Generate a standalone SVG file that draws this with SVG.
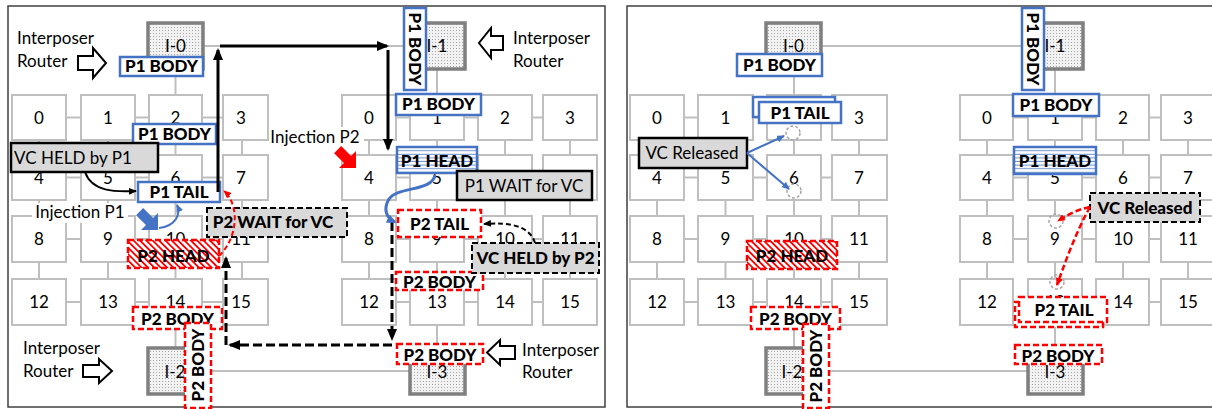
<svg xmlns="http://www.w3.org/2000/svg" width="1212" height="409" viewBox="0 0 1212 409">
<defs>
<pattern id="dots" width="3" height="3" patternUnits="userSpaceOnUse"><rect width="3" height="3" fill="#f2f2f2"/><rect width="1" height="1" fill="#a6a6a6"/></pattern>
<pattern id="hatch" width="4.5" height="4.5" patternUnits="userSpaceOnUse" patternTransform="rotate(-45)"><rect width="4.5" height="4.5" fill="#fff"/><rect width="1.8" height="4.5" fill="#ff0000"/></pattern>
<pattern id="hl" width="6" height="3.6" patternUnits="userSpaceOnUse"><rect width="6" height="3.6" fill="#fff"/><rect y="2.6" width="6" height="0.8" fill="#4472c4"/></pattern>
<marker id="mk" viewBox="0 0 12 10" refX="10" refY="5" markerWidth="12" markerHeight="10" markerUnits="userSpaceOnUse" orient="auto"><path d="M0,0 L12,5 L0,10 z" fill="#000"/></marker>
<marker id="mks" viewBox="0 0 8 7" refX="7" refY="3.5" markerWidth="8" markerHeight="7" markerUnits="userSpaceOnUse" orient="auto"><path d="M0,0 L8,3.5 L0,7 z" fill="#000"/></marker>
<marker id="mkb" viewBox="0 0 8 7" refX="7" refY="3.5" markerWidth="8" markerHeight="7" markerUnits="userSpaceOnUse" orient="auto"><path d="M0,0 L8,3.5 L0,7 z" fill="#4472c4"/></marker>
<marker id="mkbb" viewBox="0 0 10 9" refX="8" refY="4.5" markerWidth="10" markerHeight="9" markerUnits="userSpaceOnUse" orient="auto"><path d="M0,0 L10,4.5 L0,9 z" fill="#4472c4"/></marker>
<marker id="mkr" viewBox="0 0 8 7" refX="7" refY="3.5" markerWidth="8" markerHeight="7" markerUnits="userSpaceOnUse" orient="auto"><path d="M0,0 L8,3.5 L0,7 z" fill="#ff0000"/></marker>
</defs>
<style>
text { font-family: Lato, "Liberation Sans", sans-serif; fill:#000; }
.rt rect { fill:#fff; stroke:#bfbfbf; stroke-width:2; }
.rt text { font-size:17px; text-anchor:middle; }
.lk { stroke:#bfbfbf; stroke-width:2; fill:none; }
.ip rect { fill:url(#dots); stroke:#7f7f7f; stroke-width:3.5; }
.ip text { font-size:17px; text-anchor:middle; }
.b1 rect { fill:#fff; stroke:#4472c4; stroke-width:2.5; }
.b1 rect.hd { fill:url(#hl); }
.b2 rect { fill:#fff; stroke:#ff0000; stroke-width:2.5; stroke-dasharray:6 3; }
.b2 rect.hh { fill:url(#hatch); }
.lb { font-size:17px; font-weight:900; text-anchor:middle; }
.nt rect { fill:#d9d9d9; stroke:#000; stroke-width:2.5; }
.nd rect { fill:#d9d9d9; stroke:#000; stroke-width:2; stroke-dasharray:6 3; }
.nt text { font-size:17px; text-anchor:middle; }
.tx { font-size:17px; }
.oa { fill:#fff; stroke:#000; stroke-width:2; }
.ring { fill:none; stroke:#a6a6a6; stroke-width:1.5; stroke-dasharray:3 2; }
.ah { fill:none; stroke:#000; stroke-width:3; }
.ahd { fill:none; stroke:#000; stroke-width:3; stroke-dasharray:9 4; }
</style>
<rect width="1212" height="409" fill="#fff"/>
<rect x="8" y="6" width="597" height="401" fill="none" stroke="#404040" stroke-width="1.5"/>
<path d="M1215,6 H627 V407 H1215" fill="none" stroke="#404040" stroke-width="1.5"/>

<g id="links">
<path class="lk" d="M39,117.5H241 M39,177.5H241 M39,239H241 M39,302H241 M39,117V302 M108,117V302 M175.5,117V302 M242,117V302"/>
<path class="lk" d="M369,117.5H570 M369,177.5H570 M369,239H570 M369,302H570 M369,117V302 M437,117V302 M505,117V302 M570,117V302"/>
<path class="lk" d="M657,117.5H859 M657,177.5H859 M657,239H859 M657,302H859 M657,117V302 M725.5,117V302 M794,117V302 M859,117V302"/>
<path class="lk" d="M987,117.5H1188 M987,177.5H1188 M987,239H1188 M987,302H1188 M987,117V302 M1055,117V302 M1123,117V302 M1188,117V302"/>
<path class="lk" d="M203,46H410 M175.5,69V95 M437,69V95 M175.5,324V348 M437,324V348 M203,371H410"/>
<path class="lk" d="M821,46H1028 M794,69V95 M1055,69V95 M794,324V348 M1055,324V348 M821,371H1028"/>
</g>

<g id="left-grid-a" class="rt">
<g id="LA0"><rect x="12" y="95" width="54" height="45"/><text x="39" y="124">0</text></g>
<g id="LA1"><rect x="81" y="95" width="54" height="45"/><text x="108" y="124">1</text></g>
<g id="LA2"><rect x="149" y="95" width="53" height="45"/><text x="175.5" y="124">2</text></g>
<g id="LA3"><rect x="223" y="95" width="45" height="45"/><text x="241" y="124">3</text></g>
<g id="LA4"><rect x="12" y="155" width="54" height="45"/><text x="39" y="184">4</text></g>
<g id="LA5"><rect x="81" y="155" width="54" height="45"/><text x="108" y="184">5</text></g>
<g id="LA6"><rect x="149" y="155" width="53" height="45"/><text x="175.5" y="184">6</text></g>
<g id="LA7"><rect x="223" y="155" width="45" height="45"/><text x="241" y="184">7</text></g>
<g id="LA8"><rect x="12" y="216" width="54" height="46"/><text x="39" y="245">8</text></g>
<g id="LA9"><rect x="81" y="216" width="54" height="46"/><text x="108" y="245">9</text></g>
<g id="LA10"><rect x="149" y="216" width="53" height="46"/><text x="175.5" y="245">10</text></g>
<g id="LA11"><rect x="223" y="216" width="45" height="46"/><text x="241" y="245">11</text></g>
<g id="LA12"><rect x="12" y="279" width="54" height="46"/><text x="39" y="308">12</text></g>
<g id="LA13"><rect x="81" y="279" width="54" height="46"/><text x="108" y="308">13</text></g>
<g id="LA14"><rect x="149" y="279" width="53" height="46"/><text x="175.5" y="308">14</text></g>
<g id="LA15"><rect x="223" y="279" width="45" height="46"/><text x="241" y="308">15</text></g>
</g>
<g id="left-grid-b" class="rt">
<g id="LB0"><rect x="342" y="95" width="54" height="45"/><text x="369" y="124">0</text></g>
<g id="LB1"><rect x="410" y="95" width="54" height="45"/><text x="437" y="124">1</text></g>
<g id="LB2"><rect x="478" y="95" width="54" height="45"/><text x="505" y="124">2</text></g>
<g id="LB3"><rect x="543" y="95" width="54" height="45"/><text x="570" y="124">3</text></g>
<g id="LB4"><rect x="342" y="155" width="54" height="45"/><text x="369" y="184">4</text></g>
<g id="LB5"><rect x="410" y="155" width="54" height="45"/><text x="437" y="184">5</text></g>
<g id="LB6"><rect x="478" y="155" width="54" height="45"/><text x="505" y="184">6</text></g>
<g id="LB7"><rect x="543" y="155" width="54" height="45"/><text x="570" y="184">7</text></g>
<g id="LB8"><rect x="342" y="216" width="54" height="46"/><text x="369" y="245">8</text></g>
<g id="LB9"><rect x="410" y="216" width="54" height="46"/><text x="437" y="245">9</text></g>
<g id="LB10"><rect x="478" y="216" width="54" height="46"/><text x="505" y="245">10</text></g>
<g id="LB11"><rect x="543" y="216" width="54" height="46"/><text x="570" y="245">11</text></g>
<g id="LB12"><rect x="342" y="279" width="54" height="46"/><text x="369" y="308">12</text></g>
<g id="LB13"><rect x="410" y="279" width="54" height="46"/><text x="437" y="308">13</text></g>
<g id="LB14"><rect x="478" y="279" width="54" height="46"/><text x="505" y="308">14</text></g>
<g id="LB15"><rect x="543" y="279" width="54" height="46"/><text x="570" y="308">15</text></g>
</g>
<g id="right-grid-a" class="rt">
<g id="RA0"><rect x="630" y="95" width="54" height="45"/><text x="657" y="124">0</text></g>
<g id="RA1"><rect x="698" y="95" width="55" height="45"/><text x="725.5" y="124">1</text></g>
<g id="RA2"><rect x="767" y="95" width="54" height="45"/><text x="794" y="124">2</text></g>
<g id="RA3"><rect x="832" y="95" width="55" height="45"/><text x="859" y="124">3</text></g>
<g id="RA4"><rect x="630" y="155" width="54" height="45"/><text x="657" y="184">4</text></g>
<g id="RA5"><rect x="698" y="155" width="55" height="45"/><text x="725.5" y="184">5</text></g>
<g id="RA6"><rect x="767" y="155" width="54" height="45"/><text x="794" y="184">6</text></g>
<g id="RA7"><rect x="832" y="155" width="55" height="45"/><text x="859" y="184">7</text></g>
<g id="RA8"><rect x="630" y="216" width="54" height="46"/><text x="657" y="245">8</text></g>
<g id="RA9"><rect x="698" y="216" width="55" height="46"/><text x="725.5" y="245">9</text></g>
<g id="RA10"><rect x="767" y="216" width="54" height="46"/><text x="794" y="245">10</text></g>
<g id="RA11"><rect x="832" y="216" width="55" height="46"/><text x="859" y="245">11</text></g>
<g id="RA12"><rect x="630" y="279" width="54" height="46"/><text x="657" y="308">12</text></g>
<g id="RA13"><rect x="698" y="279" width="55" height="46"/><text x="725.5" y="308">13</text></g>
<g id="RA14"><rect x="767" y="279" width="54" height="46"/><text x="794" y="308">14</text></g>
<g id="RA15"><rect x="832" y="279" width="55" height="46"/><text x="859" y="308">15</text></g>
</g>
<g id="right-grid-b" class="rt">
<g id="RB0"><rect x="960" y="95" width="53" height="45"/><text x="987" y="124">0</text></g>
<g id="RB1"><rect x="1028" y="95" width="54" height="45"/><text x="1055" y="124">1</text></g>
<g id="RB2"><rect x="1096" y="95" width="53" height="45"/><text x="1123" y="124">2</text></g>
<g id="RB3"><rect x="1161" y="95" width="54" height="45"/><text x="1188" y="124">3</text></g>
<g id="RB4"><rect x="960" y="155" width="53" height="45"/><text x="987" y="184">4</text></g>
<g id="RB5"><rect x="1028" y="155" width="54" height="45"/><text x="1055" y="184">5</text></g>
<g id="RB6"><rect x="1096" y="155" width="53" height="45"/><text x="1123" y="184">6</text></g>
<g id="RB7"><rect x="1161" y="155" width="54" height="45"/><text x="1188" y="184">7</text></g>
<g id="RB8"><rect x="960" y="216" width="53" height="46"/><text x="987" y="245">8</text></g>
<g id="RB9"><rect x="1028" y="216" width="54" height="46"/><text x="1055" y="245">9</text></g>
<g id="RB10"><rect x="1096" y="216" width="53" height="46"/><text x="1123" y="245">10</text></g>
<g id="RB11"><rect x="1161" y="216" width="54" height="46"/><text x="1188" y="245">11</text></g>
<g id="RB12"><rect x="960" y="279" width="53" height="46"/><text x="987" y="308">12</text></g>
<g id="RB13"><rect x="1028" y="279" width="54" height="46"/><text x="1055" y="308">13</text></g>
<g id="RB14"><rect x="1096" y="279" width="53" height="46"/><text x="1123" y="308">14</text></g>
<g id="RB15"><rect x="1161" y="279" width="54" height="46"/><text x="1188" y="308">15</text></g>
</g>

<g id="interposers" class="ip">
<g id="L-I0"><rect x="148" y="23" width="55" height="46"/><text x="175.5" y="52">I-0</text></g>
<g id="L-I1"><rect x="410" y="23" width="55" height="46"/><text x="437" y="52">I-1</text></g>
<g id="L-I2"><rect x="148" y="348" width="55" height="46"/><text x="175" y="378">I-2</text></g>
<g id="L-I3"><rect x="410" y="348" width="55" height="46"/><text x="437" y="378">I-3</text></g>
<g id="R-I0"><rect x="766" y="23" width="55" height="46"/><text x="793.5" y="52">I-0</text></g>
<g id="R-I1"><rect x="1028" y="23" width="55" height="46"/><text x="1055" y="52">I-1</text></g>
<g id="R-I2"><rect x="766" y="348" width="55" height="46"/><text x="792" y="378">I-2</text></g>
<g id="R-I3"><rect x="1028" y="348" width="55" height="46"/><text x="1055" y="378">I-3</text></g>
</g>

<g id="left-captions">
<g id="cap-tl"><text class="tx" x="17" y="44">Interposer</text><text class="tx" x="17" y="67">Router</text><polygon class="oa" points="78,56 93,56 93,48 106,63 93,78 93,70 78,70"/></g>
<g id="cap-tr"><text class="tx" x="513" y="44">Interposer</text><text class="tx" x="513" y="67">Router</text><polygon class="oa" points="503,36 491,36 491,28 479,43 491,58 491,50 503,50"/></g>
<g id="cap-bl"><text class="tx" x="23" y="354">Interposer</text><text class="tx" x="23" y="377">Router</text><polygon class="oa" points="83,365 99,365 99,359 112,371 99,383 99,377 83,377"/></g>
<g id="cap-br"><text class="tx" x="522" y="356">Interposer</text><text class="tx" x="522" y="378">Router</text><polygon class="oa" points="515,346 500,346 500,340 487,352.5 500,365 500,359 515,359"/></g>
<g id="inj-p1"><rect x="32" y="203" width="96" height="20" fill="#fff"/><text class="tx" x="80" y="218" text-anchor="middle">Injection P1</text><polygon points="0,0 -12,-12 -12,-5 -26,-5 -26,5 -12,5 -12,12" fill="#4472c4" transform="translate(158,230) rotate(45)"/></g>
<g id="inj-p2"><rect x="270" y="127" width="94" height="20" fill="#fff"/><text class="tx" x="315" y="143" text-anchor="middle">Injection P2</text><polygon points="0,0 -12,-12 -12,-5 -26,-5 -26,5 -12,5 -12,12" fill="#ff0000" transform="translate(356,168) rotate(45)"/></g>
</g>

<g id="left-flits">
<g id="L-p1body-i0" class="b1"><rect x="120" y="57" width="83" height="19"/><text class="lb" x="161.5" y="72">P1 BODY</text></g>
<g id="L-p1body-2" class="b1"><rect x="133" y="124" width="83" height="20"/><text class="lb" x="174.5" y="140">P1 BODY</text></g>
<g id="L-p1tail" class="b1"><rect x="138" y="182" width="82" height="20"/><text class="lb" x="179" y="198">P1 TAIL</text></g>
<g id="L-p1body-v" class="b1"><rect x="404" y="8" width="22" height="82"/><text class="lb" transform="translate(415,49) rotate(90)" x="0" y="6">P1 BODY</text></g>
<g id="L-p1body-b1" class="b1"><rect x="396" y="94" width="85" height="21"/><text class="lb" x="438.5" y="110">P1 BODY</text></g>
<g id="L-p1head" class="b1"><rect class="hd" x="397" y="147" width="80" height="26"/><text class="lb" x="437" y="167">P1 HEAD</text></g>
<g id="L-p2tail" class="b2"><rect x="398" y="210" width="83" height="27"/><text class="lb" x="439.5" y="230">P2 TAIL</text></g>
<g id="L-p2head" class="b2"><rect class="hh" x="128" y="240" width="91" height="28"/><text class="lb" x="173.5" y="262">P2 HEAD</text></g>
<g id="L-p2body-14" class="b2"><rect x="133" y="307" width="89" height="22"/><text class="lb" x="177.5" y="325">P2 BODY</text></g>
<g id="L-p2body-v" class="b2"><rect x="185" y="323" width="26" height="85"/><text class="lb" transform="translate(198,365) rotate(-90)" x="0" y="6">P2 BODY</text></g>
<g id="L-p2body-13" class="b2"><rect x="396" y="272" width="87" height="18"/><text class="lb" x="439.5" y="288">P2 BODY</text></g>
<g id="L-p2body-i3" class="b2"><rect x="397" y="344" width="86" height="20"/><text class="lb" x="440" y="361">P2 BODY</text></g>
<g id="L-vcheld-p1" class="nt"><rect x="11" y="143" width="147" height="29"/><text x="73" y="164">VC HELD by P1</text></g>
<g id="L-p1wait" class="nt"><rect x="457" y="171" width="135" height="29"/><text x="524" y="192">P1 WAIT for VC</text></g>
<g id="L-p2wait" class="nd"><rect x="207" y="208" width="140" height="29"/><text class="lb" x="273" y="228">P2 WAIT for VC</text></g>
<g id="L-vcheld-p2" class="nd"><rect x="472" y="243" width="127" height="30"/><text class="lb" x="535.5" y="264">VC HELD by P2</text></g>
</g>

<g id="right-flits">
<g id="R-p1body-i0" class="b1"><rect x="737" y="54" width="85" height="22"/><text class="lb" x="779.5" y="71">P1 BODY</text></g>
<g id="R-p1tail" class="b1"><rect x="753" y="97" width="82" height="20"/><rect x="759" y="102" width="82" height="21"/><text class="lb" x="800" y="119">P1 TAIL</text></g>
<g id="R-vcrel-a" class="nt"><rect x="639" y="138" width="108" height="30"/><text x="692" y="159">VC Released</text></g>
<circle class="ring" cx="793" cy="133" r="7"/>
<circle class="ring" cx="794" cy="191" r="7"/>
<g id="R-p1body-v" class="b1"><rect x="1022" y="8" width="22" height="82"/><text class="lb" transform="translate(1033,49) rotate(90)" x="0" y="6">P1 BODY</text></g>
<g id="R-p1body-b1" class="b1"><rect x="1013" y="94" width="86" height="22"/><text class="lb" x="1056" y="111">P1 BODY</text></g>
<g id="R-p1head" class="b1"><rect class="hd" x="1014" y="147" width="82" height="27"/><text class="lb" x="1055" y="167">P1 HEAD</text></g>
<g id="R-vcrel-b" class="nd"><rect x="1090" y="193" width="110" height="29"/><text class="lb" x="1145" y="214">VC Released</text></g>
<circle class="ring" cx="1056" cy="221" r="7"/>
<circle class="ring" cx="1057" cy="282" r="7"/>
<g id="R-p2tail" class="b2"><rect x="1015" y="302" width="88" height="25"/><rect x="1019" y="297" width="88" height="25"/><text class="lb" x="1064" y="316">P2 TAIL</text></g>
<g id="R-p2body-i3" class="b2"><rect x="1015" y="345" width="87" height="19"/><text class="lb" x="1058" y="362">P2 BODY</text></g>
<g id="R-p2head" class="b2"><rect class="hh" x="747" y="241" width="90" height="28"/><text class="lb" x="792" y="262">P2 HEAD</text></g>
<g id="R-p2body-14" class="b2"><rect x="751" y="307" width="89" height="22"/><text class="lb" x="795.5" y="325">P2 BODY</text></g>
<g id="R-p2body-v" class="b2"><rect x="803" y="324" width="26" height="84"/><text class="lb" transform="translate(816,366) rotate(-90)" x="0" y="6">P2 BODY</text></g>
</g>

<g id="connectors">
<path class="ah" d="M218,192 V50" marker-end="url(#mk)"/>
<path class="ah" d="M220,46 H387" marker-end="url(#mk)"/>
<path class="ah" d="M388,50 V149" marker-end="url(#mk)"/>
<path class="ahd" d="M392,222 V339" marker-end="url(#mk)"/>
<path class="ahd" d="M392,345 H230" marker-end="url(#mk)"/>
<path class="ahd" d="M226,345 V258" marker-end="url(#mk)"/>
<path d="M85,172 C92,192 115,192 136,191" fill="none" stroke="#000" stroke-width="2" marker-end="url(#mks)"/>
<path d="M535,243 C530,226 510,222 484,224" fill="none" stroke="#000" stroke-width="2" stroke-dasharray="5 3" marker-end="url(#mks)"/>
<path d="M159,228 C176,226 181,214 177,205" fill="none" stroke="#4472c4" stroke-width="2" marker-end="url(#mkb)"/>
<path d="M435,175 C432,192 398,186 389,199 C383,209 386,218 395,222" fill="none" stroke="#4472c4" stroke-width="3" marker-end="url(#mkbb)"/>
<path d="M219,256 C238,238 240,205 224,191" fill="none" stroke="#ff0000" stroke-width="2" stroke-dasharray="5 3" marker-end="url(#mkr)"/>
<path d="M747,153 L784,136" fill="none" stroke="#4472c4" stroke-width="2" marker-end="url(#mkb)"/>
<path d="M747,153 L789,189" fill="none" stroke="#4472c4" stroke-width="2" marker-end="url(#mkb)"/>
<path d="M1090,207 C1075,210 1066,216 1058,221" fill="none" stroke="#ff0000" stroke-width="2.5" stroke-dasharray="6 3" marker-end="url(#mkr)"/>
<path d="M1090,207 C1076,232 1066,260 1057,285" fill="none" stroke="#ff0000" stroke-width="2.5" stroke-dasharray="6 3" marker-end="url(#mkr)"/>
</g>
</svg>
